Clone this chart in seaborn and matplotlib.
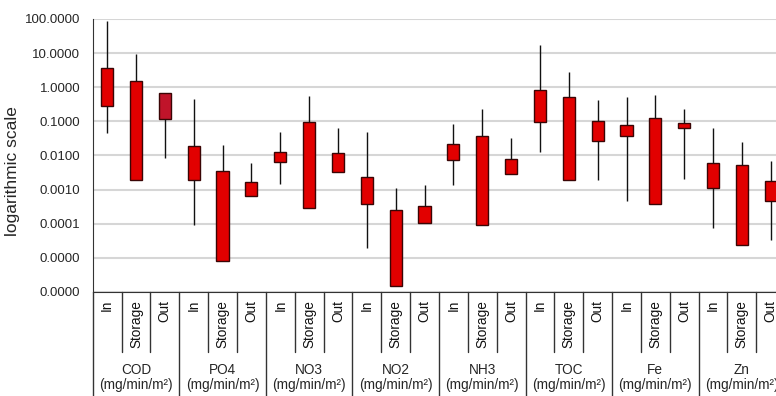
import numpy as np
import pandas as pd
import matplotlib
matplotlib.use('Agg')
import matplotlib.pyplot as plt
import matplotlib.transforms as mtransforms
from matplotlib.ticker import FuncFormatter, NullLocator
import seaborn as sns

# Data: whisker low / box low / box high / whisker high
groups = ['COD', 'PO4', 'NO3', 'NO2', 'NH3', 'TOC', 'Fe', 'Zn']
stages = ['In', 'Storage', 'Out']
unit = '(mg/min/m²)'

whisker_low = [0.046, 0.0019, 0.0087,
               0.000089, 8.1e-6, 0.00063,
               0.0015, 0.00028, 0.0032,
               1.95e-5, 1.48e-6, 0.000107,
               0.00133, 9.1e-5, 0.00285,
               0.0128, 0.00187, 0.0019,
               0.00047, 0.00039, 0.0021,
               7.7e-5, 2.34e-5, 3.3e-5]
box_low = [0.29, 0.0019, 0.115,
           0.0019, 8.1e-6, 0.00063,
           0.0066, 0.00028, 0.0032,
           0.00037, 1.48e-6, 0.000107,
           0.0075, 9.1e-5, 0.00285,
           0.095, 0.00187, 0.0264,
           0.038, 0.00039, 0.064,
           0.00108, 2.34e-5, 0.00045]
box_high = [3.7, 1.55, 0.66,
            0.0193, 0.0035, 0.00162,
            0.0123, 0.095, 0.0115,
            0.0024, 0.000245, 0.000335,
            0.0211, 0.037, 0.008,
            0.83, 0.506, 0.1,
            0.078, 0.123, 0.091,
            0.0062, 0.0051, 0.00178]
whisker_high = [88, 9.4, 0.66,
                0.45, 0.020, 0.0059,
                0.0496, 0.55, 0.062,
                0.05, 0.00112, 0.00133,
                0.081, 0.229, 0.033,
                17.3, 2.73, 0.42,
                0.516, 0.61, 0.229,
                0.065, 0.0242, 0.0068]
y_ticks = [1e-6, 1e-5, 1e-4, 1e-3, 1e-2, 1e-1, 1, 10, 100]

# build long table so the boxplot gets q1=box_low, q3=box_high, min/max=whiskers
labels = [f'{g} {s}' for g in groups for s in stages]
rows = []
for lab, wl, bl, bh, wh in zip(labels, whisker_low, box_low, box_high, whisker_high):
    for v in [wl, bl, bl, bh, wh]:
        rows.append({'item': lab, 'value': v})
df = pd.DataFrame(rows)

palette = {lab: '#e20000' for lab in labels}
palette['COD Out'] = '#c0142a'

sns.set_style('white')
plt.rcParams['font.family'] = ['Liberation Sans', 'DejaVu Sans']

fig = plt.figure(figsize=(7.76, 3.96), dpi=100)
ax = fig.add_axes([92.7 / 776, 104 / 396, 692.5 / 776, 273 / 396])

sns.boxplot(data=df, x='item', y='value', hue='item', palette=palette, legend=False,
            order=labels, whis=(0, 100), width=0.42, showcaps=False, showfliers=False,
            log_scale=True, saturation=1, ax=ax,
            boxprops={'edgecolor': '#3a0505', 'linewidth': 1.0},
            whiskerprops={'color': '#111111', 'linewidth': 1.0},
            medianprops={'visible': False})

ax.set_ylim(1e-6, 100)
ax.set_xlim(-0.5, len(labels) - 0.5)
ax.set_yticks(y_ticks)
ax.yaxis.set_minor_locator(NullLocator())
ax.yaxis.set_major_formatter(FuncFormatter(lambda v, p: f'{v:.4f}'))
ax.grid(axis='y', color='#d6d6d6', linewidth=1.5)
ax.set_axisbelow(True)

ax.set_xticks(np.arange(-0.5, len(labels), 1))
ax.set_xticklabels([])
ax.tick_params(axis='x', direction='inout', length=12, width=1, color='#333333')
ax.tick_params(axis='y', direction='out', length=5, width=1, color='#333333',
               labelsize=9.5, pad=4)
ax.set_xlabel('')
ax.set_ylabel('logarithmic scale', fontsize=12.5)
ax.yaxis.set_label_coords(-0.105, 0.443)

for side in ['top', 'right']:
    ax.spines[side].set_visible(False)
ax.spines['left'].set_color('#333333')
ax.spines['bottom'].set_color('#333333')

# multi-level category labels below the axis
trans = mtransforms.blended_transform_factory(ax.transData, fig.transFigure)
y_axis = 104 / 396
y_inner = 44 / 396
for i, lab in enumerate(labels):
    stage = stages[i % 3]
    ax.text(i, 96 / 396, stage, transform=trans, rotation=90, ha='center', va='top',
            fontsize=9.8, color='#111111')
    x_edge = i - 0.5
    if i % 3 == 0:
        ax.plot([x_edge, x_edge], [y_axis, 0], transform=trans, color='#333333',
                linewidth=1, clip_on=False)
    else:
        ax.plot([x_edge, x_edge], [y_axis, y_inner], transform=trans, color='#333333',
                linewidth=1, clip_on=False)

for j, g in enumerate(groups):
    xc = j * 3 + 1
    ax.text(xc, 26 / 396, g, transform=trans, ha='center', va='center', fontsize=9.8)
    ax.text(xc, 11 / 396, unit, transform=trans, ha='center', va='center', fontsize=9.8)

fig.savefig('out.png', dpi=100)
